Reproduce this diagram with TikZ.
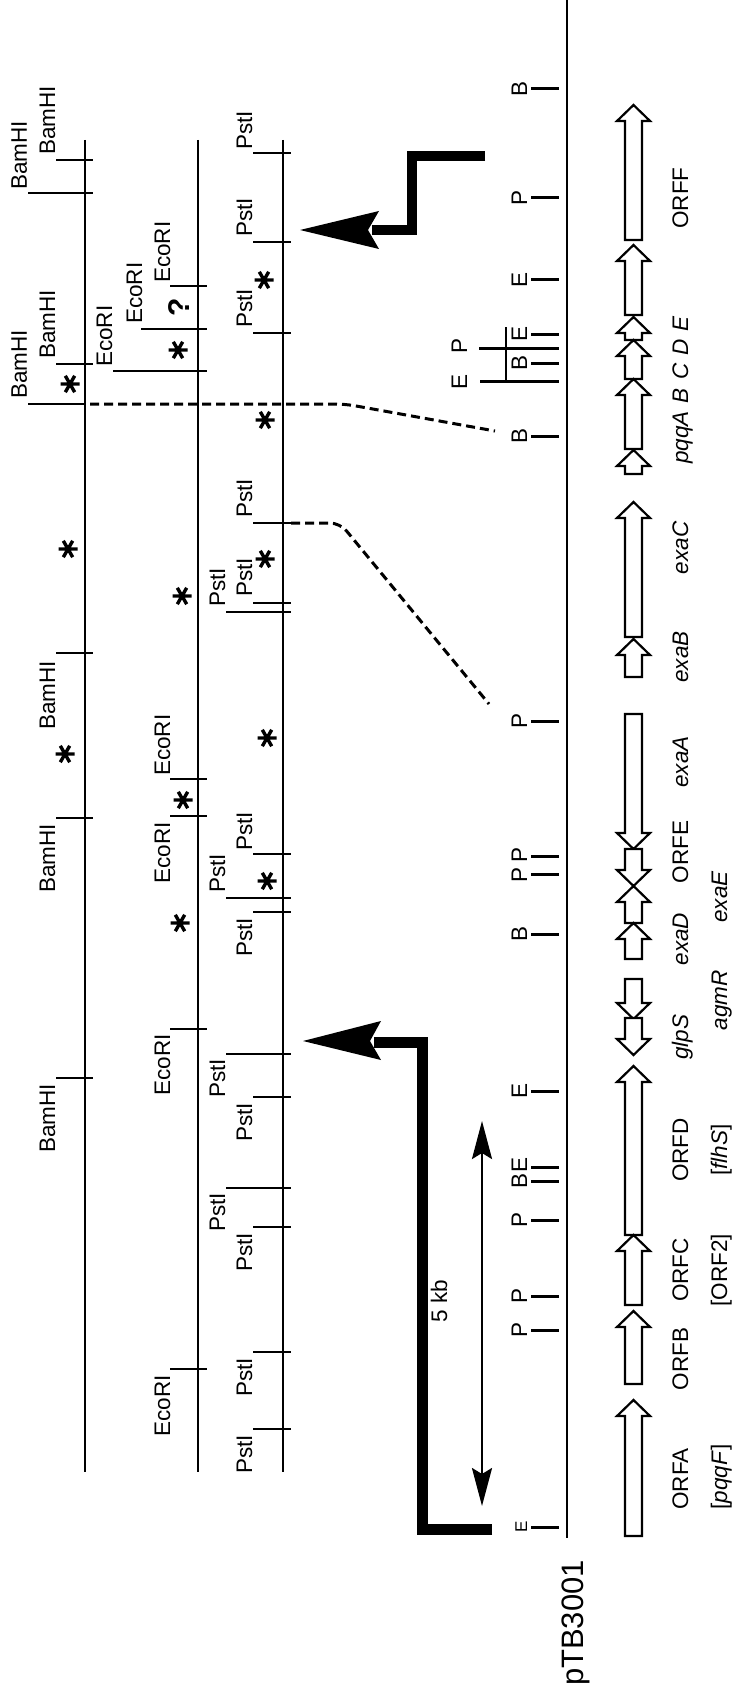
\documentclass[tikz,border=0pt]{standalone}
\usepackage{fontspec}
\setmainfont{Liberation Sans}
\usetikzlibrary{arrows.meta}
\tikzset{
  rline/.style={line width=1.4pt},
  rtick/.style={line width=1.4pt},
  stick/.style={line width=3pt},
  lab/.style={rotate=90, inner sep=0pt, font=\fontsize{22.5}{24}\selectfont},
  glab/.style={rotate=90, inner sep=0pt, anchor=base, font=\fontsize{22.5}{24}\selectfont},
  gene/.style={line width=2.2pt, line join=miter, fill=white},
  dashline/.style={line width=3pt, dash pattern=on 9pt off 5pt, rounded corners=10pt},
  bigL/.style={line width=10pt, line join=miter},
  astk/.pic={\draw[line width=3.4pt] (-9.5,0)--(9.5,0) (-4.7,-8.2)--(4.7,8.2) (-4.7,8.2)--(4.7,-8.2);}
}
\newcommand\garrow[2]{%
  \pgfmathsetmacro\gs{(#2>#1)?1:-1}%
  \pgfmathsetmacro\gb{#1+16*\gs}%
  \draw[gene] (633.5,#1) -- (650,\gb) -- (642,\gb) -- (642,#2) -- (625,#2) -- (625,\gb) -- (617,\gb) -- cycle;}
\begin{document}
\begin{tikzpicture}[x=1pt,y=-1pt]
\useasboundingbox (0,0) rectangle (731,1693);

% restriction map lines
\draw[rline] (85,140) -- (85,1472);
\draw[rline] (198,140) -- (198,1472);
\draw[rline] (283,140) -- (283,1472);

% BamHI
\draw[rtick] (56,160) -- (93,160);  \node[lab,anchor=base west] (b1) at (55,155) {BamHI};
\draw[rtick] (28,193) -- (93,193);  \node[lab,anchor=base west] (b2) at (27,190) {BamHI};
\draw[rtick] (56,364) -- (93,364);  \node[lab,anchor=base west] (b3) at (55,359) {BamHI};
\draw[rtick] (28,404) -- (85,404);  \node[lab,anchor=base west] (b4) at (27,399) {BamHI};
\draw[rtick] (56,653) -- (93,653);  \node[lab,anchor=base east] (b5) at (55,661) {BamHI};
\draw[rtick] (56,818) -- (93,818);  \node[lab,anchor=base east] (b6) at (55,824) {BamHI};
\draw[rtick] (56,1078) -- (93,1078); \node[lab,anchor=base east] (b7) at (55,1084) {BamHI};

% EcoRI
\draw[rtick] (170,286) -- (207,286); \node[lab,anchor=base west] (e1) at (170,283) {EcoRI};
\draw[rtick] (141,329) -- (207,329); \node[lab,anchor=base west] (e2) at (142,324) {EcoRI};
\draw[rtick] (113,371) -- (207,371); \node[lab,anchor=base west] (e3) at (112,367) {EcoRI};
\draw[rtick] (170,779) -- (207,779); \node[lab,anchor=base west] (e4) at (170,776) {EcoRI};
\draw[rtick] (170,816) -- (207,816); \node[lab,anchor=base east] (e5) at (170,822) {EcoRI};
\draw[rtick] (170,1029) -- (207,1029); \node[lab,anchor=base east] (e6) at (170,1034) {EcoRI};
\draw[rtick] (170,1369) -- (207,1369); \node[lab,anchor=base east] (e7) at (170,1375) {EcoRI};

% PstI
\draw[rtick] (253,153) -- (291,153); \node[lab,anchor=base west] (p1) at (252,150) {PstI};
\draw[rtick] (253,242) -- (291,242); \node[lab,anchor=base west] (p2) at (252,237) {PstI};
\draw[rtick] (253,333) -- (291,333); \node[lab,anchor=base west] (p3) at (252,328) {PstI};
\draw[rtick] (253,523) -- (291,523); \node[lab,anchor=base west] (p4) at (252,518) {PstI};
\draw[rtick] (253,603) -- (291,603); \node[lab,anchor=base west] (p5) at (252,597) {PstI};
\draw[rtick] (226,612) -- (291,612); \node[lab,anchor=base west] (p6) at (225,607) {PstI};
\draw[rtick] (253,854) -- (291,854); \node[lab,anchor=base west] (p7) at (252,851) {PstI};
\draw[rtick] (226,898) -- (291,898); \node[lab,anchor=base west] (p8) at (225,893) {PstI};
\draw[rtick] (253,912) -- (291,912); \node[lab,anchor=base east] (p9) at (252,918) {PstI};
\draw[rtick] (226,1054) -- (291,1054); \node[lab,anchor=base east] (p10) at (225,1059) {PstI};
\draw[rtick] (253,1097) -- (291,1097); \node[lab,anchor=base east] (p11) at (252,1103) {PstI};
\draw[rtick] (226,1188) -- (291,1188); \node[lab,anchor=base east] (p12) at (225,1193) {PstI};
\draw[rtick] (253,1227) -- (291,1227); \node[lab,anchor=base east] (p13) at (252,1233) {PstI};
\draw[rtick] (253,1352) -- (291,1352); \node[lab,anchor=base east] (p14) at (252,1358) {PstI};
\draw[rtick] (253,1429) -- (291,1429); \node[lab,anchor=base east] (p15) at (252,1435) {PstI};

% asterisks
\foreach \p in {(70,384),(68,549),(65,754),(178,350),(182,596),(183,800),(180,923),(264,280),(265,420),(265,559),(267,738),(267,881)}
  \pic at \p {astk};
\node[rotate=90, inner sep=0pt, font=\bfseries\fontsize{30}{30}\selectfont] (q) at (179,307) {?};

% dashed connections
\draw[dashline] (90,404) -- (345,404) -- (495,431);
\draw[dashline] (291,523) -- (340,523) -- (489,704);

% big L arrows
\draw[bigL] (485,156) -- (412,156) -- (412,230) -- (372,230);
\fill (300,230) -- (379,211) -- (368,230) -- (379,249) -- cycle;
\draw[bigL, line width=11pt] (492,1529) -- (422,1529) -- (422,1042) -- (374,1042);
\fill (303,1041) -- (381,1021) -- (370,1041) -- (381,1060) -- cycle;

% 5 kb
\draw[line width=2.5pt, {Stealth[length=38pt,width=20pt,inset=6pt]}-{Stealth[length=38pt,width=20pt,inset=6pt]}] (482,1121) -- (482,1506);
\node[glab] (kb) at (447,1301) {5 kb};

% main line
\draw[line width=2pt] (567,0) -- (567,1538);
\foreach \y in {89,198,280,334,363,436,721,856,874,934,1091,1167,1181,1220,1296,1330,1527}
  \draw[stick] (531,\y) -- (559,\y);
\draw[stick] (479,348) -- (559,348);
\draw[stick] (480,381) -- (559,381);
\draw[line width=2pt] (506,327) -- (506,382);
\node[glab] (s1) at (527,89) {B};
\node[glab] (s2) at (527,198) {P};
\node[glab] (s3) at (527,280) {E};
\node[glab] (s4) at (527,334) {E};
\node[glab] (s5) at (467,346) {P};
\node[glab] (s6) at (527,363) {B};
\node[glab] (s7) at (467,382) {E};
\node[glab] (s8) at (527,436) {B};
\node[glab] (s9) at (527,721) {P};
\node[glab] (s10) at (527,855) {P};
\node[glab] (s11) at (527,875) {P};
\node[glab] (s12) at (527,934) {B};
\node[glab] (s13) at (527,1091) {E};
\node[glab] (s14) at (527,1165) {E};
\node[glab] (s15) at (527,1181) {B};
\node[glab] (s16) at (527,1220) {P};
\node[glab] (s17) at (527,1296) {P};
\node[glab] (s18) at (527,1330) {P};
\node[glab, font=\fontsize{17}{18}\selectfont] (s19) at (527,1527) {E};
\node[rotate=90, inner sep=0pt, anchor=base, font=\fontsize{31}{31}\selectfont] (ptb) at (583,1623) {pTB3001};

% genes
\garrow{105}{240}
\garrow{245}{315}
\garrow{317}{340}
\garrow{340}{379}
\garrow{379}{449}
\garrow{450}{474}
\garrow{502}{637}
\garrow{639}{677}
\garrow{849}{714}
\garrow{886}{849}
\garrow{886}{923}
\garrow{923}{959}
\garrow{1019}{979}
\garrow{1055}{1018}
\garrow{1066}{1235}
\garrow{1235}{1305}
\garrow{1311}{1384}
\garrow{1400}{1536}

% gene labels
\node[glab] (gF) at (688,198) {ORFF};
\node[glab] (gpqq) at (688,390) {\itshape pqqA\hspace{8pt}B\hspace{8pt}C\hspace{8pt}D\hspace{8pt}E};
\node[glab] (gexaC) at (688,548) {\itshape exaC};
\node[glab] (gexaB) at (688,657) {\itshape exaB};
\node[glab] (gexaA) at (688,762) {\itshape exaA};
\node[glab] (gE) at (688,852) {ORFE};
\node[glab] (gexaD) at (688,939) {\itshape exaD};
\node[glab] (gglpS) at (688,1037) {\itshape glpS};
\node[glab] (gD) at (688,1150) {ORFD};
\node[glab] (gC) at (688,1270) {ORFC};
\node[glab] (gB) at (688,1359) {ORFB};
\node[glab] (gA) at (688,1479) {ORFA};
\node[glab] (gexaE) at (727,897) {\itshape exaE};
\node[glab] (gagmR) at (727,1000) {\itshape agmR};
\node[glab] (gflhS) at (727,1150) {[\textit{flhS}]};
\node[glab] (gORF2) at (727,1270) {[ORF2]};
\node[glab] (gpqqF) at (727,1477) {[\textit{pqqF}]};
\end{tikzpicture}
\end{document}
